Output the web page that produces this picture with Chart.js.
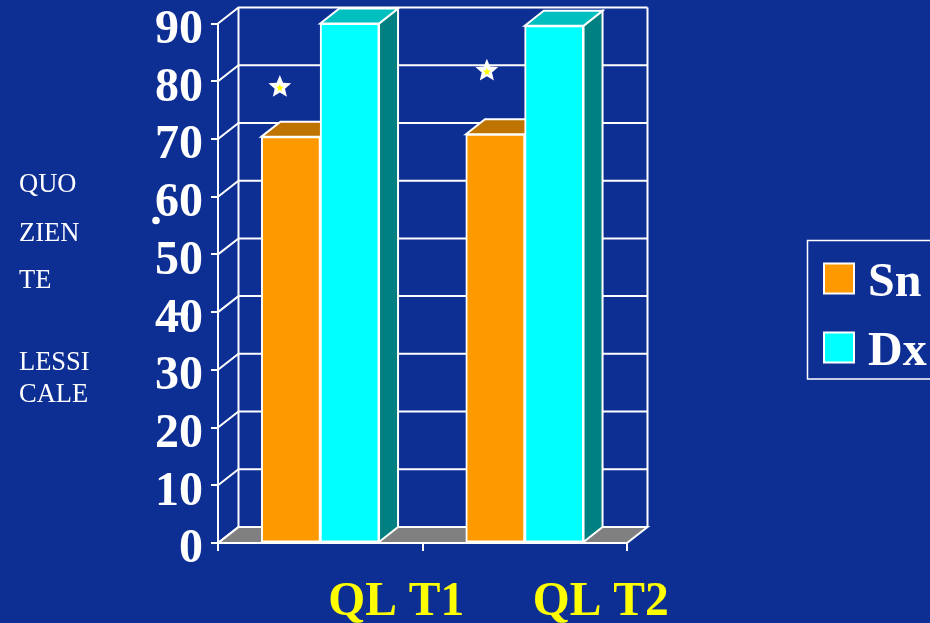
<!DOCTYPE html>
<html>
<head>
<meta charset="utf-8">
<style>
  html, body { margin: 0; padding: 0; background: #0d2f94; overflow: hidden; }
  canvas { display: block; }
</style>
<script src="https://cdn.jsdelivr.net/npm/chart.js@4"></script>
</head>
<body>
<canvas id="quozienteChart" width="930" height="623"></canvas>
<script>
const categories = ['QL T1', 'QL T2'];
const sn = [70.4, 70.8];
const dx = [90, 89.6];
const starValues = [79, 81.8];
const sideLabel = ['QUO', 'ZIEN', 'TE', 'LESSI', 'CALE'];

const SERIF = '"Liberation Serif", "Times New Roman", serif';
const lineW = 2;
const depthX = 20.5, depthY = 16;   // wall depth
const barDX = 19, barDY = 15;       // bar depth

function poly(ctx, pts, fill, stroke, w) {
    ctx.beginPath();
    pts.forEach((p, i) => i ? ctx.lineTo(p[0], p[1]) : ctx.moveTo(p[0], p[1]));
    ctx.closePath();
    if (fill) { ctx.fillStyle = fill; ctx.fill(); }
    if (stroke) { ctx.strokeStyle = stroke; ctx.lineWidth = w; ctx.stroke(); }
}

function star(ctx, cx, cy, r, color) {
    const pts = [];
    for (let i = 0; i < 10; i++) {
        const a = -Math.PI / 2 + i * Math.PI / 5;
        const rr = i % 2 ? r * 0.45 : r;
        pts.push([cx + rr * Math.cos(a), cy + rr * Math.sin(a)]);
    }
    poly(ctx, pts, color);
}

const walls = {
    id: 'walls',
    beforeDatasetsDraw(chart) {
        const ctx = chart.ctx, a = chart.chartArea, y = chart.scales.y;
        ctx.save();
        // floor
        poly(ctx, [[a.left, a.bottom], [a.left + depthX, a.bottom - depthY],
            [a.right + depthX, a.bottom - depthY], [a.right, a.bottom]], '#808080', '#fff', lineW);
        // back wall lines and the slanted ones down to the ticks
        ctx.strokeStyle = '#fff';
        ctx.lineWidth = lineW;
        y.ticks.forEach(t => {
            const py = y.getPixelForValue(t.value);
            ctx.beginPath();
            ctx.moveTo(a.left, py);
            ctx.lineTo(a.left + depthX, py - depthY);
            ctx.lineTo(a.right + depthX, py - depthY);
            ctx.stroke();
        });
        ctx.beginPath();
        ctx.moveTo(a.left + depthX, a.top - depthY);
        ctx.lineTo(a.left + depthX, a.bottom - depthY);
        ctx.moveTo(a.right + depthX, a.top - depthY);
        ctx.lineTo(a.right + depthX, a.bottom - depthY);
        ctx.stroke();

        // top and side faces of the bars, the fronts come from chart.js
        const faces = [['#bf7300', '#996000'], ['#00bfbf', '#008080']];
        chart.data.datasets.forEach((ds, i) => {
            chart.getDatasetMeta(i).data.forEach(b => {
                const l = b.x - b.width / 2, r = b.x + b.width / 2;
                poly(ctx, [[r, b.y], [r + barDX, b.y - barDY], [r + barDX, b.base - barDY], [r, b.base]],
                    faces[i][1], '#fff', lineW);
                poly(ctx, [[l, b.y], [l + barDX, b.y - barDY], [r + barDX, b.y - barDY], [r, b.y]],
                    faces[i][0], '#fff', lineW);
            });
        });
        ctx.restore();
    },
    afterDatasetsDraw(chart) {
        const ctx = chart.ctx, a = chart.chartArea, y = chart.scales.y;
        ctx.save();
        ctx.strokeStyle = '#fff';
        ctx.lineWidth = lineW;
        ctx.beginPath();
        ctx.moveTo(a.left, a.bottom);
        ctx.lineTo(a.right, a.bottom);
        ctx.stroke();
        // stars above the orange bars
        const offs = [-11, -8.5];
        chart.getDatasetMeta(0).data.forEach((b, i) => {
            const cx = b.x + offs[i], cy = y.getPixelForValue(starValues[i]);
            star(ctx, cx, cy, 12, '#fff');
            star(ctx, cx, cy + 1, 4, '#ffff00');
        });
        ctx.restore();
    }
};

const extras = {
    id: 'extras',
    afterDraw(chart) {
        const ctx = chart.ctx;
        ctx.save();
        // text on the left
        ctx.fillStyle = '#fff';
        ctx.textBaseline = 'alphabetic';
        ctx.textAlign = 'left';
        ctx.font = '26.5px ' + SERIF;
        const base = [192, 241, 288, 370, 401.5];
        sideLabel.forEach((t, i) => ctx.fillText(t, 19, base[i]));
        // stray marks from the original slide
        ctx.beginPath();
        ctx.arc(156, 220.5, 3.8, 0, Math.PI * 2);
        ctx.fill();
        ctx.fillRect(172, 312.5, 16, 3);

        // legend
        ctx.strokeStyle = '#fff';
        ctx.lineWidth = 1.5;
        ctx.beginPath();
        ctx.moveTo(935, 240.5);
        ctx.lineTo(807.5, 240.5);
        ctx.lineTo(807.5, 379);
        ctx.lineTo(935, 379);
        ctx.stroke();
        const rows = [279, 348];
        chart.data.datasets.forEach((ds, i) => {
            ctx.fillStyle = ds.backgroundColor;
            ctx.fillRect(824, rows[i] - 15.5, 30, 30);
            ctx.strokeStyle = '#fff';
            ctx.lineWidth = 2;
            ctx.strokeRect(824, rows[i] - 15.5, 30, 30);
            ctx.fillStyle = '#fff';
            ctx.font = 'bold 48px ' + SERIF;
            ctx.fillText(ds.label, 868, rows[i] + 17);
        });
        ctx.restore();
    }
};

const ctx = document.getElementById('quozienteChart').getContext('2d');
new Chart(ctx, {
    type: 'bar',
    data: {
        labels: categories,
        datasets: [
            { label: 'Sn', data: sn, backgroundColor: '#ff9900', borderColor: '#fff', borderWidth: 2, borderSkipped: false, inflateAmount: 0.5 },
            { label: 'Dx', data: dx, backgroundColor: '#00ffff', borderColor: '#fff', borderWidth: 2, borderSkipped: false, inflateAmount: 0.5 }
        ]
    },
    plugins: [walls, extras],
    options: {
        responsive: false,
        animation: false,
        layout: { autoPadding: false, padding: { left: 0, right: 303, top: 23.5, bottom: 0 } },
        datasets: { bar: { barPercentage: 1, categoryPercentage: 0.575 } },
        plugins: { legend: { display: false }, tooltip: { enabled: false } },
        scales: {
            x: {
                afterFit(s) { s.height = 80; },
                grid: { color: '#fff', lineWidth: lineW, drawOnChartArea: false, tickLength: 8 },
                border: { color: '#fff', width: lineW },
                ticks: {
                    color: '#ffff00',
                    font: { family: SERIF, size: 47.5, weight: 'bold', lineHeight: 1 },
                    labelOffset: 76,
                    padding: 28,
                    maxRotation: 0,
                    autoSkip: false
                }
            },
            y: {
                min: 0,
                max: 90,
                afterFit(s) { s.width = 218; s.paddingTop = 0; s.paddingBottom = 0; },
                grid: { color: '#fff', lineWidth: lineW, drawOnChartArea: false, tickLength: 7 },
                border: { color: '#fff', width: lineW },
                ticks: {
                    stepSize: 10,
                    color: '#fff',
                    // short line height so the top label does not push the plot down
                    font: { family: SERIF, size: 48, weight: 'bold', lineHeight: 0.5 },
                    labelOffset: 7,
                    padding: 8
                }
            }
        }
    }
});
</script>
</body>
</html>
